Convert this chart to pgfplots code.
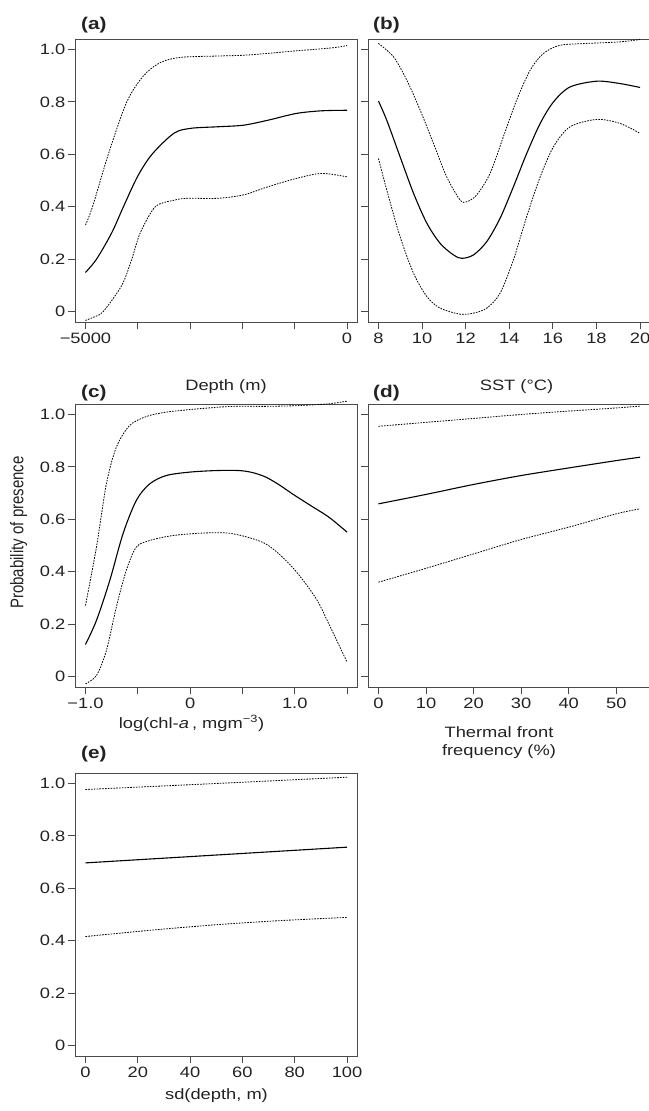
\documentclass[border=0pt]{standalone}
\usepackage{fontspec}
\setmainfont{Liberation Sans}
\usepackage{pgfplots}
\pgfplotsset{compat=1.18}
\usepackage{graphicx}

\definecolor{txt}{HTML}{222222}
\definecolor{frame}{HTML}{4A4A4A}

\pgfplotsset{
  rplot/.style={
    scale only axis, width=282.5pt, height=283pt,
    anchor=north west, clip=false,
    axis line style={draw=frame, line width=1pt},
    tick style={draw=frame, line width=0.9pt},
    tick align=outside, major tick length=7pt,
    xtick pos=bottom, ytick pos=left,
    ymin=-0.04, ymax=1.04,
    ytick={0,0.2,0.4,0.6,0.8,1.0},
    yticklabels={0,0.2,0.4,0.6,0.8,1.0},
    every tick label/.append style={font=\fontsize{15}{18}\selectfont, xscale=1.22, text=txt},
    yticklabel style={inner sep=2pt},
    xticklabel style={inner sep=4pt},
  },
  noylab/.style={yticklabels={}},
  fit/.style={black, line width=1.1pt, smooth, tension=0.5},
  ci/.style={black, line width=0.8pt, dash pattern=on 1.6pt off 1.2pt, smooth, tension=0.5},
}

\begin{document}
\begin{tikzpicture}
\path[use as bounding box] (0pt,0pt) rectangle (648pt,-1111pt);

% (a) depth
\begin{axis}[rplot, at={(75pt,-39pt)},
  xmin=-5200, xmax=200, xtick={-5000,-4000,-3000,-2000,-1000,0},
  xticklabels={−5000,{},{},{},{},0}]
\addplot[fit] coordinates {(-5000,0.149)(-4788,0.2)(-4499,0.3)(-4274,0.4)(-4005,0.515)(-3728,0.6)(-3311,0.68)(-2990,0.699)(-2476,0.705)(-1981,0.711)(-1513,0.730)(-967,0.756)(-485,0.766)(0,0.768)};
\addplot[ci] coordinates {(-5000,0.33)(-4865,0.4)(-4563,0.6)(-4210,0.8)(-3889,0.9)(-3568,0.95)(-3182,0.97)(-2476,0.975)(-1981,0.978)(-1513,0.985)(-967,0.995)(-290,1.006)(0,1.015)};
\addplot[ci] coordinates {(-5000,-0.034)(-4850,-0.022)(-4660,0)(-4306,0.1)(-4114,0.2)(-3953,0.3)(-3664,0.4)(-3300,0.425)(-3054,0.432)(-2476,0.432)(-1981,0.445)(-1513,0.476)(-967,0.508)(-485,0.527)(0,0.514)};
\end{axis}

% (b) SST
\begin{axis}[rplot, noylab, at={(368pt,-39pt)},
  xmin=7.52, xmax=20.48, xtick={8,10,12,14,16,18,20},
  xticklabels={8,10,12,14,16,18,20}]
\addplot[fit] coordinates {(8,0.803)(8.38,0.730)(8.99,0.591)(9.61,0.451)(10.22,0.337)(10.83,0.260)(11.44,0.216)(11.82,0.203)(12.36,0.216)(12.97,0.267)(13.58,0.356)(14.19,0.476)(14.80,0.603)(15.42,0.718)(16.03,0.800)(16.79,0.857)(18.02,0.879)(19.08,0.870)(20,0.855)};
\addplot[ci] coordinates {(8,1.023)(8.69,0.972)(9.30,0.883)(9.91,0.769)(10.52,0.642)(11.13,0.514)(11.74,0.426)(12.05,0.419)(12.51,0.445)(13.12,0.527)(13.73,0.667)(14.34,0.807)(14.96,0.921)(15.57,0.985)(16.33,1.016)(17.56,1.023)(19.08,1.029)(20,1.038)};
\addplot[ci] coordinates {(8,0.584)(8.38,0.464)(8.99,0.286)(9.61,0.146)(10.22,0.057)(10.83,0.013)(11.74,-0.010)(12.36,-0.006)(12.97,0.013)(13.58,0.070)(14.19,0.197)(14.80,0.362)(15.42,0.514)(16.03,0.629)(16.79,0.705)(18.02,0.733)(19.08,0.718)(20,0.680)};
\end{axis}

% (c) chlorophyll
\begin{axis}[rplot, at={(75pt,-404pt)},
  xmin=-1.1, xmax=1.6, xtick={-1,-0.5,0,0.5,1,1.5},
  xticklabels={−1.0,{},0,{},1.0,{}}]
\addplot[fit] coordinates {(-1,0.122)(-0.895,0.214)(-0.768,0.366)(-0.641,0.545)(-0.514,0.672)(-0.387,0.735)(-0.229,0.767)(-0.006,0.780)(0.248,0.786)(0.470,0.786)(0.6,0.778)(0.724,0.761)(0.85,0.732)(0.978,0.697)(1.15,0.653)(1.327,0.608)(1.5,0.551)};
\addplot[ci] coordinates {(-1,0.271)(-0.895,0.494)(-0.8,0.735)(-0.705,0.875)(-0.578,0.958)(-0.419,0.992)(-0.229,1.009)(0.089,1.022)(0.406,1.031)(0.724,1.031)(1.041,1.034)(1.327,1.041)(1.5,1.051)};
\addplot[ci] coordinates {(-1,-0.028)(-0.895,0.004)(-0.8,0.099)(-0.705,0.265)(-0.610,0.405)(-0.514,0.494)(-0.387,0.519)(-0.165,0.538)(0.152,0.548)(0.406,0.545)(0.724,0.506)(0.978,0.417)(1.2,0.300)(1.327,0.200)(1.5,0.055)};
\end{axis}

% (d) thermal front frequency
\begin{axis}[rplot, noylab, at={(368pt,-404pt)},
  xmin=-2.2, xmax=57.2, xtick={0,10,20,30,40,50},
  xticklabels={0,10,20,30,40,50}]
\addplot[fit] coordinates {(0,0.659)(10,0.695)(20,0.733)(30,0.767)(40,0.796)(50,0.824)(55,0.837)};
\addplot[ci] coordinates {(0,0.955)(10,0.970)(20,0.985)(30,1.000)(40,1.013)(50,1.025)(55,1.032)};
\addplot[ci] coordinates {(0,0.360)(10,0.413)(20,0.468)(30,0.523)(40,0.570)(50,0.621)(55,0.640)};
\end{axis}

% (e) sd(depth)
\begin{axis}[rplot, at={(75pt,-773pt)},
  xmin=-4, xmax=104, xtick={0,20,40,60,80,100},
  xticklabels={0,20,40,60,80,100}]
\addplot[fit] coordinates {(0,0.697)(50,0.727)(100,0.757)};
\addplot[ci] coordinates {(0,0.977)(50,1.000)(100,1.024)};
\addplot[ci] coordinates {(0,0.416)(25,0.440)(50,0.461)(75,0.477)(100,0.489)};
\end{axis}

% panel letters
\begin{scope}[every node/.style={font=\fontsize{17}{20}\selectfont\bfseries, text=txt, xscale=1.22, anchor=base west, inner sep=0pt}]
\node at (81pt,-29.5pt) {(a)};
\node at (373pt,-29.5pt) {(b)};
\node at (81pt,-397pt) {(c)};
\node at (373pt,-397pt) {(d)};
\node at (81pt,-758.5pt) {(e)};
\end{scope}

% axis titles
\begin{scope}[every node/.style={font=\fontsize{15}{18}\selectfont, text=txt, xscale=1.22, anchor=base, inner sep=0pt}]
\node at (226pt,-390pt) {Depth (m)};
\node at (516.5pt,-390pt) {SST (°C)};
\node at (191.5pt,-728pt) {log(chl-\textit{a}\,, mgm\textsuperscript{−3})};
\node at (499pt,-737pt) {Thermal front};
\node at (499pt,-755pt) {frequency (\%)};
\node at (216.5pt,-1099pt) {sd(depth, m)};
\end{scope}
\node[rotate=90, anchor=base, inner sep=0pt, font=\fontsize{15}{18}\selectfont, text=txt] at (23.3pt,-532.5pt) {\scalebox{1}[1.22]{Probability of presence}};
\end{tikzpicture}
\end{document}
